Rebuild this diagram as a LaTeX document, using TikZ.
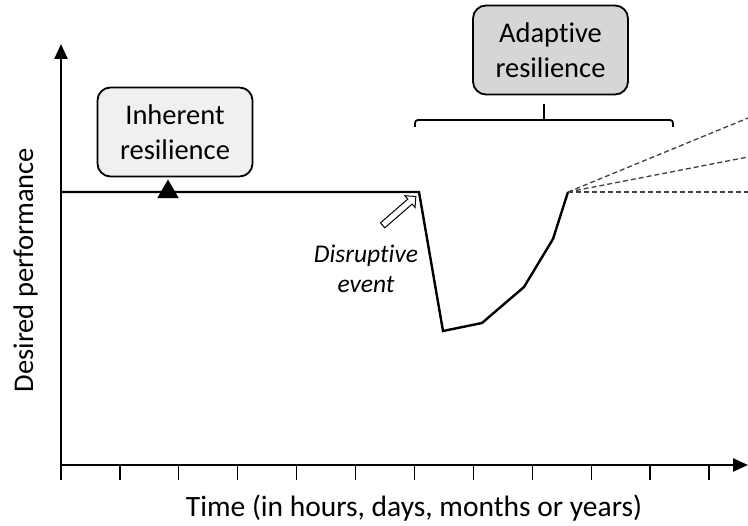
\documentclass[tikz,border=0pt]{standalone}
\usepackage{fontspec}
\setmainfont{Carlito}[Ligatures=NoCommon,RawFeature={-liga,-clig,-calt,-dlig}]
\usetikzlibrary{arrows.meta,shapes.geometric,shapes.arrows}

\begin{document}
\begin{tikzpicture}[
    x=1pt, y=-1pt,
    font=\fontsize{28.5}{35}\selectfont,
    asse/.style={line width=2.4pt,-{Triangle[length=15pt,width=13pt]}},
    tacca/.style={line width=1.2pt},
    curva/.style={line width=2.4pt,line join=miter},
    ipotesi/.style={line width=1.3pt,dash pattern=on 5pt off 3pt,black!75},
    riquadro/.style={draw,line width=1.8pt,rounded corners=13pt,
                     minimum width=155pt,minimum height=89pt,align=center,inner sep=0pt},
    freccia/.style={single arrow,draw,line width=1pt,fill=white,inner sep=2.8pt,
                    single arrow head extend=4.5pt,minimum height=44pt}]

  \useasboundingbox (0,0) rectangle (748,526);

  %% ================================ assi ===================================
  \coordinate (O) at (61,465);
  \coordinate (ytop) at (61,44);
  \coordinate (xend) at (748,465);
  \draw[asse] (O) -- (ytop);
  \draw[asse] (O) -- (xend);
  \foreach \i in {0,...,11}
    \draw[tacca] ({61+\i*58.9},465) -- ++(0,15);
  \node[anchor=base,font=\fontsize{29.5}{35}\selectfont] (tempo)
    at (414,517) {Time (in hours, days, months or years)};
  \node[rotate=90,anchor=base] (prest) at (33,270) {Desired performance};

  %% ============================== prestazione ==============================
  \foreach \n/\x/\y in {0/61/192, 1/419/192, 2/443/331, 3/482/323,
                        4/524/287, 5/553/239, 6/568/192}
    \coordinate (p\n) at (\x,\y);
  \draw[curva] (p0) -- (p1) -- (p2) -- (p3) -- (p4) -- (p5) -- (p6);
  \foreach \n/\y in {1/118, 2/157, 3/192}
    \coordinate (e\n) at (748,\y);
  \foreach \n in {1,2,3}
    \draw[ipotesi] (p6) -- (e\n);

  %% ============================ resilienza =================================
  \node[regular polygon,regular polygon sides=3,fill=black,inner sep=0pt,
        minimum size=25pt] (tri) at (168,192) {};
  \node[riquadro,fill=black!6] (inerente) at (175,132) {Inherent\\resilience};
  \node[riquadro,fill=black!16] (adattiva) at (550.5,50) {Adaptive\\resilience};

  \coordinate (g1) at (415,127);
  \coordinate (g2) at (673,127);
  \coordinate (gc) at (544,120);
  \draw[line width=1.8pt,rounded corners=3pt]
    (g1) -- (g1 |- gc) -- (g2 |- gc) -- (g2);
  \draw[line width=1.8pt] (gc) -- ++(0,-16);

  %% ================================ evento =================================
  \node[freccia,rotate=41] (disr) at (398,212) {};
  \node[align=center,font=\fontsize{25.5}{30}\selectfont\itshape] (evento)
    at (366,269) {Disruptive\\event};

\end{tikzpicture}
\end{document}
